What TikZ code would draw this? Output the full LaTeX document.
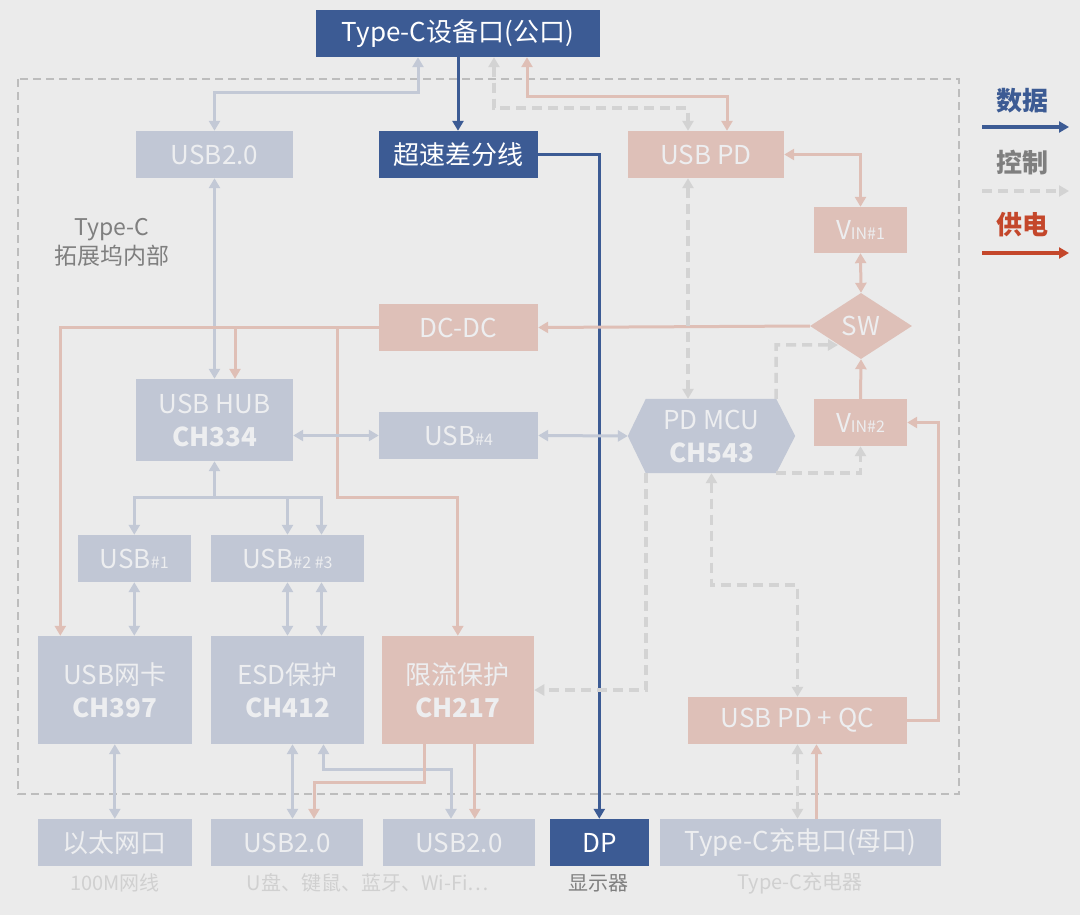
\documentclass[tikz,border=0pt]{standalone}
\usepackage{fontspec}
\setmainfont{Noto Sans CJK SC}
\usetikzlibrary{arrows.meta,shapes.geometric}
\definecolor{cBG}{HTML}{C1C7D5}
\definecolor{cPK}{HTML}{DEC0B8}
\definecolor{cDB}{HTML}{3C5B94}
\definecolor{cTX}{HTML}{EDEEF0}
\definecolor{cLB}{HTML}{C3C9D6}
\definecolor{cLP}{HTML}{DFBFB6}
\definecolor{cDS}{HTML}{D3D3D3}
\definecolor{cBack}{HTML}{EBEBEB}
\definecolor{cFrame}{HTML}{BDBDBD}
\definecolor{cGrayTx}{HTML}{7F7F7F}
\definecolor{cCap}{HTML}{D0D0D0}
\definecolor{cRed}{HTML}{C4472B}
\tikzset{
  wh/.style 2 args={minimum width=#1pt, minimum height=#2pt},
  box/.style={rectangle, inner sep=0pt, align=center, font=\fontsize{26}{33}\selectfont, text=cTX},
  bgbox/.style={box, fill=cBG},
  pkbox/.style={box, fill=cPK},
  dkbox/.style={box, fill=cDB, text=white},
  tipA/.tip={Triangle[length=10pt,width=11pt]},
  ar/.style={-tipA},
  ar2/.style={tipA-tipA},
  lnb/.style={line width=3pt, draw=cLB},
  lnp/.style={line width=3pt, draw=cLP},
  lnk/.style={line width=3pt, draw=cDB},
  lnd/.style={line width=3.5pt, draw=cDS, dash pattern=on 10pt off 6pt},
  captxt/.style={font=\fontsize{20}{22}\selectfont, text=cCap},
}
\newcommand{\smx}[1]{{\fontsize{16}{16}\selectfont #1}}
\begin{document}
\begin{tikzpicture}[x=1pt,y=-1pt]
\path[use as bounding box, fill=cBack] (0,0) rectangle (1080,915);
% frame
\draw[cFrame, line width=2pt, dash pattern=on 8pt off 5pt] (18,79) rectangle (959,794);
\node[text=cGrayTx, align=center, font=\fontsize{23}{29}\selectfont] (inner) at (112,242) {Type-C\\拓展坞内部};

% nodes
\node[dkbox, wh={284}{47}] (tc) at (458,33.5) {Type-C设备口(公口)};
\node[bgbox, wh={157}{47}] (usbA) at (214.5,154.5) {USB2.0};
\node[dkbox, wh={159}{47}] (hs) at (458.5,154.5) {超速差分线};
\node[pkbox, wh={156}{47}] (pd) at (706,154.5) {USB PD};
\node[pkbox, wh={93}{46}] (vin1) at (860.5,230) {V\smx{IN\#1}};
\node[diamond, fill=cPK, inner sep=0pt, aspect=1.55, minimum width=102pt, minimum height=66pt, text=cTX, font=\fontsize{26}{28}\selectfont] (sw) at (861,326) {SW};
\node[pkbox, wh={159}{47}] (dcdc) at (458.5,327.5) {DC-DC};
\node[bgbox, wh={157}{82}] (hub) at (214.5,420) {USB HUB\\\textbf{CH334}};
\node[bgbox, wh={159}{47}] (usb4) at (458.5,435.5) {USB\smx{\#4}};
\node[inner sep=0pt, wh={167}{74}] (mcu) at (711.5,436) {};
\fill[cBG] (mcu.west) -- ([xshift=18pt]mcu.north west) -- ([xshift=-19pt]mcu.north east) -- (mcu.east) -- ([xshift=-19pt]mcu.south east) -- ([xshift=18pt]mcu.south west) -- cycle;
\node[box] (mcut) at (mcu.center) {PD MCU\\\textbf{CH543}};
\node[pkbox, wh={93}{47}] (vin2) at (860.5,422.5) {V\smx{IN\#2}};
\node[bgbox, wh={113.5}{47}] (usb1) at (134.3,558.5) {USB\smx{\#1}};
\node[bgbox, wh={153.6}{47}] (usb23) at (287.5,558.5) {USB\smx{\#2 \#3}};
\node[bgbox, wh={153.5}{108}] (nic) at (114.8,690) {USB网卡\\\textbf{CH397}};
\node[bgbox, wh={153.6}{108}] (esd) at (287.5,690) {ESD保护\\\textbf{CH412}};
\node[pkbox, wh={152.5}{108}] (ilim) at (457.8,690) {限流保护\\\textbf{CH217}};
\node[pkbox, wh={219}{47}] (pdqc) at (797.5,720.5) {USB PD + QC};
\node[bgbox, wh={153.5}{47}] (eth) at (114.8,842.5) {以太网口};
\node[bgbox, wh={152}{47}] (b1) at (287,842.5) {USB2.0};
\node[bgbox, wh={152}{47}] (b2) at (459,842.5) {USB2.0};
\node[dkbox, wh={99.4}{47}] (dp) at (599.3,842.5) {DP};
\node[bgbox, wh={281}{47}] (tcc) at (800.5,842.5) {Type-C充电口(母口)};

% captions
\node[captxt] (c1) at (114.8,883) {100M网线};
\node[captxt] (c2) at (368,883) {U盘、键鼠、蓝牙、Wi-Fi…};
\node[captxt, text=cGrayTx] (c3) at (598,883) {显示器};
\node[captxt] (c4) at (800,883) {Type-C充电器};

% connectors
\draw[lnb,ar2] (usbA.north) -- (usbA.north |- 0,93) -| ([xshift=-40pt]tc.south);
\draw[lnk,ar] (tc.south) -- (tc.south |- hs.north);
\draw[lnk,ar] (hs.east) -| (dp.north);
\draw[lnd,ar2] ([xshift=36pt]tc.south) -- ++(0,51) -| ([xshift=-18pt]pd.north);
\draw[lnp,ar2] ([xshift=69pt]tc.south) -- ++(0,39) -| ([xshift=21pt]pd.north);
\draw[lnb,ar2] (usbA.south) -- (hub.north);
\draw[lnp,ar2] (pd.east) -| (vin1.north);
\draw[lnp,ar2] (vin1.south) -- (sw.north);
\draw[lnp,ar] (vin2.north) -- (sw.south);
\draw[lnp,ar] (sw.west) -- (dcdc.east);
\draw[lnp,ar] (dcdc.west) -| ([xshift=-54.5pt]nic.north);
\draw[lnp,ar] ([xshift=20.5pt]hub.north |- dcdc.west) -- ([xshift=20.5pt]hub.north);
\draw[lnp,ar] ([xshift=-120pt]ilim.north |- dcdc.west) -- ([xshift=-120pt]ilim.north |- 0,497) -| (ilim.north);
\draw[lnd,ar2] ([xshift=-18pt]pd.south) -- ([xshift=-18pt]pd.south |- mcu.north);
\draw[lnd,ar] ([xshift=-19pt]mcu.north east) -- ++(0,-54) -- ([xshift=-23pt,yshift=-19pt]sw.center);
\draw[lnd,ar] ([xshift=-19pt]mcu.south east) -| (vin2.south);
\draw[lnb,ar2] (hub.east |- usb4.west) -- (usb4.west);
\draw[lnb,ar2] (usb4.east) -- (mcu.west);
\draw[lnb,ar] (hub.south |- 0,497) -- (hub.south);
\draw[lnb,ar2] (usb1.north) |- ([xshift=34pt]usb23.north |- 0,497) -- ([xshift=34pt]usb23.north);
\draw[lnb,ar] (usb23.north |- 0,497) -- (usb23.north);
\draw[lnb,ar2] (usb1.south) -- (usb1.south |- nic.north);
\draw[lnb,ar2] (usb23.south) -- (usb23.south |- esd.north);
\draw[lnb,ar2] ([xshift=34pt]usb23.south) -- ([xshift=34pt]usb23.south |- esd.north);
\draw[lnb,ar2] (nic.south) -- (eth.north);
\draw[lnb,ar2] ([xshift=5pt]esd.south) -- ([xshift=5pt]esd.south |- b1.north);
\draw[lnb,ar2] ([xshift=36pt]esd.south) -- ++(0,25) -| ([xshift=-8pt]b2.north);
\draw[lnp,ar] ([xshift=-33pt]ilim.south) -- ++(0,38) -| ([xshift=27pt]b1.north);
\draw[lnp,ar] ([xshift=17pt]ilim.south) -- ([xshift=17pt]ilim.south |- b2.north);
\draw[lnd,ar] ([xshift=18pt]mcu.south west) |- (ilim.east);
\draw[lnd,ar2] (mcu.south) -- ++(0,112) -| (pdqc.north);
\draw[lnp,ar] (pdqc.east) -- ++(31,0) |- (vin2.east);
\draw[lnd,ar2] (pdqc.south) -- (pdqc.south |- tcc.north);
\draw[lnp,ar] ([xshift=19pt]pdqc.south |- tcc.north) -- ([xshift=19pt]pdqc.south);

% legend
\node[text=cDB, font=\fontsize{26}{30}\selectfont\bfseries] (lg1) at (1022,101) {数据};
\node[text=cGrayTx, font=\fontsize{26}{30}\selectfont\bfseries] (lg2) at (1022,163) {控制};
\node[text=cRed, font=\fontsize{26}{30}\selectfont\bfseries] (lg3) at (1022,225) {供电};
\coordinate (l1a) at (982,127); \coordinate (l1b) at (1069,127);
\coordinate (l2a) at (982,191); \coordinate (l2b) at (1069,191);
\coordinate (l3a) at (982,253); \coordinate (l3b) at (1069,253);
\draw[line width=3.5pt, draw=cDB, ar] (l1a) -- (l1b);
\draw[line width=3.5pt, draw=cDS, dash pattern=on 10pt off 6pt, ar] (l2a) -- (l2b);
\draw[line width=3.5pt, draw=cRed, ar] (l3a) -- (l3b);
\end{tikzpicture}
\end{document}
